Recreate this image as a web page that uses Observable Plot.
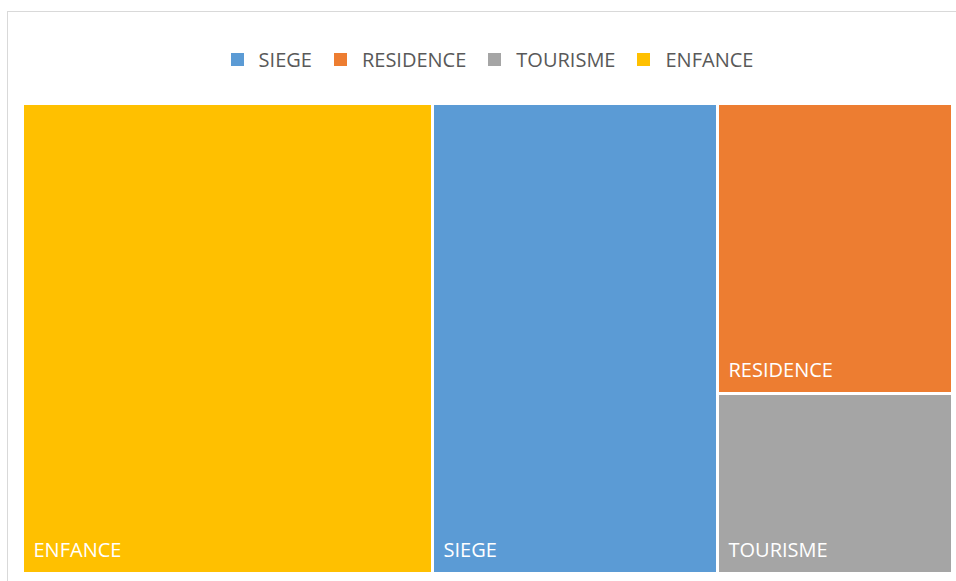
<!DOCTYPE html>
<html>
<head>
<meta charset="utf-8">
<script src="https://cdn.jsdelivr.net/npm/d3@7"></script>
<script src="https://cdn.jsdelivr.net/npm/@observablehq/plot@0.6"></script>
<style>
  html, body { margin: 0; padding: 0; background: #fff; width: 956px; height: 581px; overflow: hidden; }
  #frame { position: absolute; left: 7px; top: 11px; width: 960px; height: 580px; border: 1px solid #d9d9d9; box-sizing: border-box; }
  #legend { position: absolute; left: 0; top: 46px; width: 984px; display: flex; justify-content: center; align-items: center;
    font-family: "Open Sans", sans-serif; font-size: 20px; color: #595959; }
  .item { display: flex; align-items: center; margin: 0 11px; }
  .sw { width: 13px; height: 13px; margin-right: 15px; }
  #chart { position: absolute; left: 24px; top: 105px; }
</style>
</head>
<body>
<div id="frame"></div>
<div id="legend"></div>
<div id="chart"></div>
<script>
const categories = ["SIEGE", "RESIDENCE", "TOURISME", "ENFANCE"];
const values = [30.6, 15.6, 9.7, 44.1];
const colors = ["#5B9BD5", "#ED7D31", "#A5A5A5", "#FFC000"];

const W = 927, H = 467;

// legend
const legend = document.getElementById("legend");
categories.forEach((c, i) => {
  const it = document.createElement("div");
  it.className = "item";
  it.innerHTML = `<span class="sw" style="background:${colors[i]}"></span><span>${c}</span>`;
  legend.appendChild(it);
});

const root = d3.hierarchy({children: categories.map((c, i) => ({name: c, value: values[i]}))})
  .sum(d => d.value || 0)
  .sort((a, b) => b.value - a.value);
d3.treemap().tile(d3.treemapBinary).size([W, H]).paddingInner(3).round(true)(root);
const tiles = root.leaves().map(l => ({name: l.data.name, x0: l.x0, x1: l.x1, y0: l.y0, y1: l.y1}));

const plot = Plot.plot({
  width: W,
  height: H,
  margin: 0,
  x: {domain: [0, W], range: [0, W], axis: null},
  y: {domain: [0, H], range: [0, H], axis: null},
  color: {domain: categories, range: colors},
  style: {fontFamily: "'Open Sans', sans-serif", background: "transparent"},
  marks: [
    Plot.rect(tiles, {x1: "x0", x2: "x1", y1: "y0", y2: "y1", fill: "name"}),
    Plot.text(tiles, {x: "x0", y: "y1", text: "name", fill: "white", textAnchor: "start", dx: 9, dy: -22,
      fontSize: 20, lineAnchor: "middle"})
  ]
});
document.getElementById("chart").appendChild(plot);
</script>
</body>
</html>
